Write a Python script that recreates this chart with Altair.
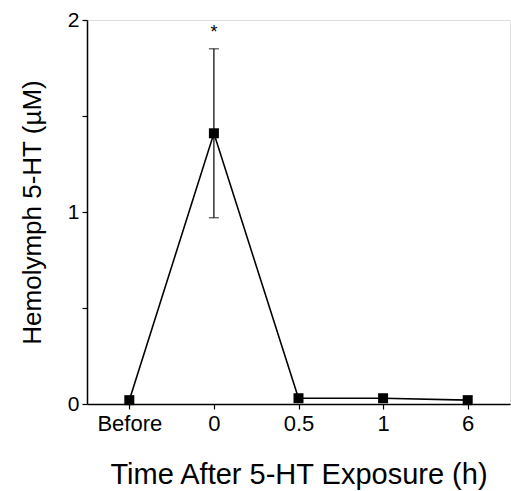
import altair as alt
import pandas as pd

categories = ["Before", "0", "0.5", "1", "6"]
means = [0.02, 1.41, 0.03, 0.03, 0.02]
err_low = [None, 0.97, None, None, None]
err_high = [None, 1.85, None, None, None]
sig_labels = ["", "*", "", "", ""]
sig_pos = [None, 1.93, None, None, None]

df = pd.DataFrame({"cat": categories, "mean": means, "lo": err_low, "hi": err_high,
                   "sig": sig_labels, "sigy": sig_pos})
font = "Liberation Sans"

xenc = alt.X("cat:O", sort=categories,
             scale=alt.Scale(type="point", padding=0.5),
             axis=alt.Axis(title="Time After 5-HT Exposure (h)", labelAngle=0,
                           ticks=True, tickSize=5, tickColor="black", tickWidth=1.2,
                           labelPadding=4, labelFontSize=22,
                           labelFont=font, labelColor="black",
                           titleFontSize=29, titlePadding=26, titleFont=font,
                           titleFontWeight="normal", titleColor="black",
                           domainColor="black", domainWidth=1.5))
yscale = alt.Scale(domain=[0, 2], nice=False)
yaxis = alt.Axis(title="Hemolymph 5-HT (µM)", values=[0, 0.5, 1, 1.5, 2],
                 labelExpr="datum.value % 1 == 0 ? format(datum.value, 'd') : ''",
                 grid=False, tickSize=5, labelPadding=3, labelFontSize=21,
                 labelFont=font, labelColor="black",
                 titleFontSize=26, titlePadding=22, titleFont=font,
                 titleFontWeight="normal", titleColor="black",
                 domainColor="black", domainWidth=1.5, tickColor="black", tickWidth=1.2)
yenc = alt.Y("mean:Q", scale=yscale, axis=yaxis)

base = alt.Chart(df)
line = base.mark_line(color="black", strokeWidth=1.6).encode(x=xenc, y=yenc)
pts = base.mark_square(color="black", size=100, opacity=1).encode(x=xenc, y=yenc)
flt = base.transform_filter("datum.lo != null")
err = flt.mark_rule(color="black", strokeWidth=1.2).encode(
    x=xenc, y=alt.Y("lo:Q", scale=yscale, axis=yaxis), y2="hi:Q")
caplo = flt.mark_tick(color="black", orient="horizontal", size=10, thickness=1.2).encode(
    x=xenc, y=alt.Y("lo:Q", scale=yscale, axis=yaxis))
caphi = flt.mark_tick(color="black", orient="horizontal", size=10, thickness=1.2).encode(
    x=xenc, y=alt.Y("hi:Q", scale=yscale, axis=yaxis))
star = base.transform_filter("datum.sigy != null").mark_text(
    font=font, fontSize=18, color="black", baseline="middle").encode(
    x=xenc, y=alt.Y("sigy:Q", scale=yscale, axis=yaxis), text="sig:N")

chart = alt.layer(err, caplo, caphi, line, pts, star).properties(
    width=423, height=384,
    padding={"left": 87, "top": 20, "right": 1, "bottom": 87},
    autosize="none",
).configure_view(stroke=None).configure(background="white")

chart.save("out.html", embed_options={"renderer": "svg", "actions": False})
